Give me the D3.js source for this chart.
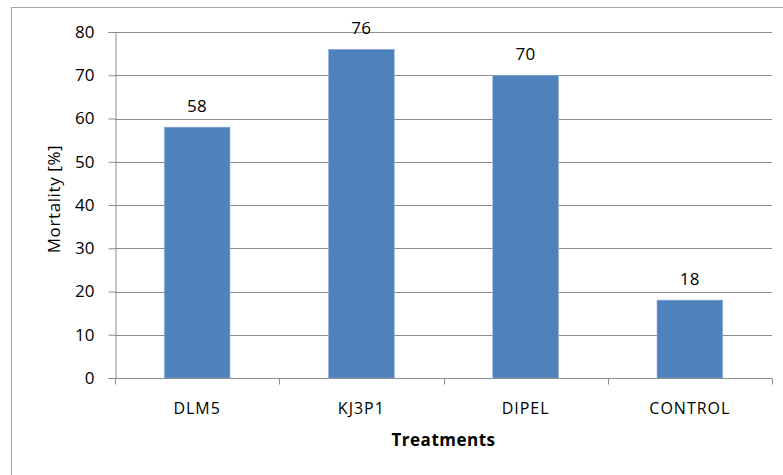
<!DOCTYPE html>
<html>
<head>
<meta charset="utf-8">
<script src="https://cdn.jsdelivr.net/npm/d3@7"></script>
<style>
  body { margin: 0; background: #fff; }
  svg { display: block; font-family: "Open Sans", sans-serif; }
</style>
</head>
<body>
<div id="chart"></div>
<script>
// chart data
let treatments = ["DLM5", "KJ3P1", "DIPEL", "CONTROL"];
let mortality = [58, 76, 70, 18];
let yTicks = [0, 10, 20, 30, 40, 50, 60, 70, 80];

let width = 783, height = 475;
let margin = { top: 32, right: 11, bottom: 97, left: 115 };
let plotW = width - margin.left - margin.right,
  plotH = height - margin.top - margin.bottom;

let svg = d3.select("#chart").append("svg")
  .attr("width", width)
  .attr("height", height);

// outer frame
svg.append("rect")
  .attr("x", 11.5).attr("y", 7.5)
  .attr("width", 800).attr("height", 500)
  .attr("fill", "none")
  .attr("stroke", "#a6a6a6");

let g = svg.append("g")
  .attr("transform", "translate(" + margin.left + "," + margin.top + ")");

let x = d3.scaleBand()
  .domain(treatments)
  .range([0, plotW])
  .padding(0);

let y = d3.scaleLinear()
  .domain([0, 80])
  .range([plotH, 0]);

// gridlines
g.selectAll(".grid")
  .data(yTicks.filter(d => d > 0))
  .enter().append("line")
  .attr("class", "grid")
  .attr("x1", 0).attr("x2", plotW)
  .attr("y1", d => Math.round(y(d)) + 0.5)
  .attr("y2", d => Math.round(y(d)) + 0.5)
  .attr("stroke", "#8c8c8c");

// y axis
let yAxis = g.append("g")
  .attr("transform", "translate(0.5,0)")
  .call(d3.axisLeft(y).tickValues(yTicks).tickSize(7).tickPadding(14));
yAxis.select(".domain").attr("stroke", "#8c8c8c");
yAxis.selectAll(".tick line").attr("stroke", "#8c8c8c");
yAxis.selectAll(".tick text").attr("font-size", 17).attr("fill", "#000")
  .attr("font-family", "Open Sans, sans-serif");

// bars
let barW = x.bandwidth() * 0.4;
g.selectAll(".bar")
  .data(treatments)
  .enter().append("rect")
  .attr("class", "bar")
  .attr("x", d => x(d) + (x.bandwidth() - barW) / 2)
  .attr("y", (d, i) => y(mortality[i]))
  .attr("width", barW)
  .attr("height", (d, i) => plotH - y(mortality[i]))
  .attr("fill", "#4f81bd")
  .attr("stroke", "#8eb0da")
  .attr("stroke-width", 0.6);

// value labels
g.selectAll(".val")
  .data(treatments)
  .enter().append("text")
  .attr("class", "val")
  .attr("x", d => x(d) + x.bandwidth() / 2)
  .attr("y", (d, i) => y(mortality[i]) - 15)
  .attr("text-anchor", "middle")
  .attr("font-size", 17)
  .attr("letter-spacing", 0.5)
  .text((d, i) => mortality[i]);

// x axis
let xAxis = g.append("g")
  .attr("transform", "translate(0," + (Math.round(plotH) + 0.5) + ")");
xAxis.append("line")
  .attr("x1", 0).attr("x2", plotW)
  .attr("stroke", "#8c8c8c");
let xTickPos = d3.range(treatments.length + 1).map(i => i * x.step());
xAxis.selectAll(".xtick")
  .data(xTickPos)
  .enter().append("line")
  .attr("x1", d => Math.round(d) + 0.5).attr("x2", d => Math.round(d) + 0.5)
  .attr("y1", 0).attr("y2", 6)
  .attr("stroke", "#8c8c8c");
xAxis.selectAll(".xlab")
  .data(treatments)
  .enter().append("text")
  .attr("x", d => x(d) + x.bandwidth() / 2)
  .attr("y", 35)
  .attr("text-anchor", "middle")
  .attr("font-size", 16)
  .attr("letter-spacing", 1)
  .text(d => d);

// axis titles
svg.append("text")
  .attr("x", margin.left + plotW / 2)
  .attr("y", 446)
  .attr("text-anchor", "middle")
  .attr("font-size", 17)
  .attr("font-weight", "bold")
  .attr("letter-spacing", 0.5)
  .text("Treatments");

svg.append("text")
  .attr("transform", "translate(60,199) rotate(-90)")
  .attr("text-anchor", "middle")
  .attr("font-size", 17)
  .attr("letter-spacing", 0.6)
  .text("Mortality [%]");
</script>
</body>
</html>
